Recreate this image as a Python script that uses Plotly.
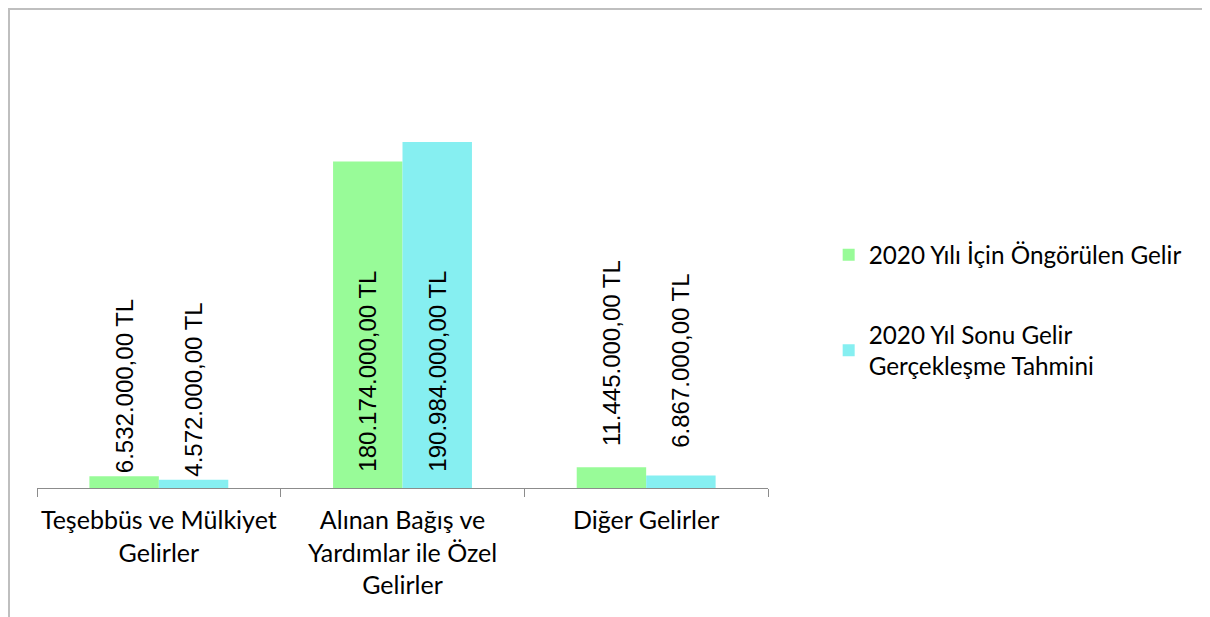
import plotly.graph_objects as go

categories = ["Teşebbüs ve Mülkiyet<br>Gelirler", "Alınan Bağış ve<br>Yardımlar ile Özel<br>Gelirler", "Diğer Gelirler"]
series_names = ["2020 Yılı İçin Öngörülen Gelir", "2020 Yıl Sonu Gelir<br>Gerçekleşme Tahmini"]
forecast_values = [6532000, 180174000, 11445000]
estimate_values = [4572000, 190984000, 6867000]
colors = ["#98FB98", "#86EFF1"]

NB = "\u00a0"
TH = "\u2009"
# leading padding of each data label (style only)
label_pads = [
    ["", NB * 2, NB * 2 + TH],
    ["", NB * 2, NB * 3 + TH],
]


def tl(v):
    s = f"{v:,.2f}"
    s = s.replace(",", "X").replace(".", ",").replace("X", ".")
    return s + " TL"


def positions(vals):
    return ["inside" if v > 50e6 else "outside" for v in vals]


def texts(vals, pads):
    return [p + tl(v) for v, p in zip(vals, pads)]


fig = go.Figure()
for i, (name, vals) in enumerate(zip(series_names, [forecast_values, estimate_values])):
    fig.add_trace(go.Bar(
        x=categories, y=vals, name=name,
        marker=dict(color=colors[i], line=dict(width=0)),
        text=texts(vals, label_pads[i]), textposition=positions(vals),
        insidetextanchor="start", textangle=-90, constraintext="none",
        textfont=dict(family="Liberation Sans", size=24, color="black"),
        legendgroup=f"g{i}", cliponaxis=False,
    ))

fig.update_layout(
    width=1210, height=617,
    margin=dict(l=29, r=450, t=27, b=137, autoexpand=False),
    paper_bgcolor="white", plot_bgcolor="white",
    barmode="group", bargap=0.43, bargroupgap=0,
    font=dict(family="Lato", size=24, color="black"),
    showlegend=True,
    legend=dict(x=1.083, y=0.564, xanchor="left", yanchor="top",
                traceorder="grouped", tracegroupgap=45,
                font=dict(family="Lato", size=24.3, color="black"),
                itemsizing="constant"),
    xaxis=dict(showline=True, linecolor="#8C8C8C", linewidth=1,
               ticks="outside", tickson="boundaries", ticklen=8,
               tickcolor="#8C8C8C", showgrid=False, ticklabelstandoff=10,
               tickangle=0, automargin=False,
               tickfont=dict(family="Lato", size=25, color="black")),
    yaxis=dict(visible=False, range=[0, 250e6], showgrid=False, automargin=False),
    shapes=[dict(type="rect", xref="paper", yref="paper",
                 x0=-0.0383, x1=1.6005, y0=-0.35, y1=1.0574,
                 line=dict(color="#BFBFBF", width=2), layer="below")],
)

fig.write_html("out.html")
